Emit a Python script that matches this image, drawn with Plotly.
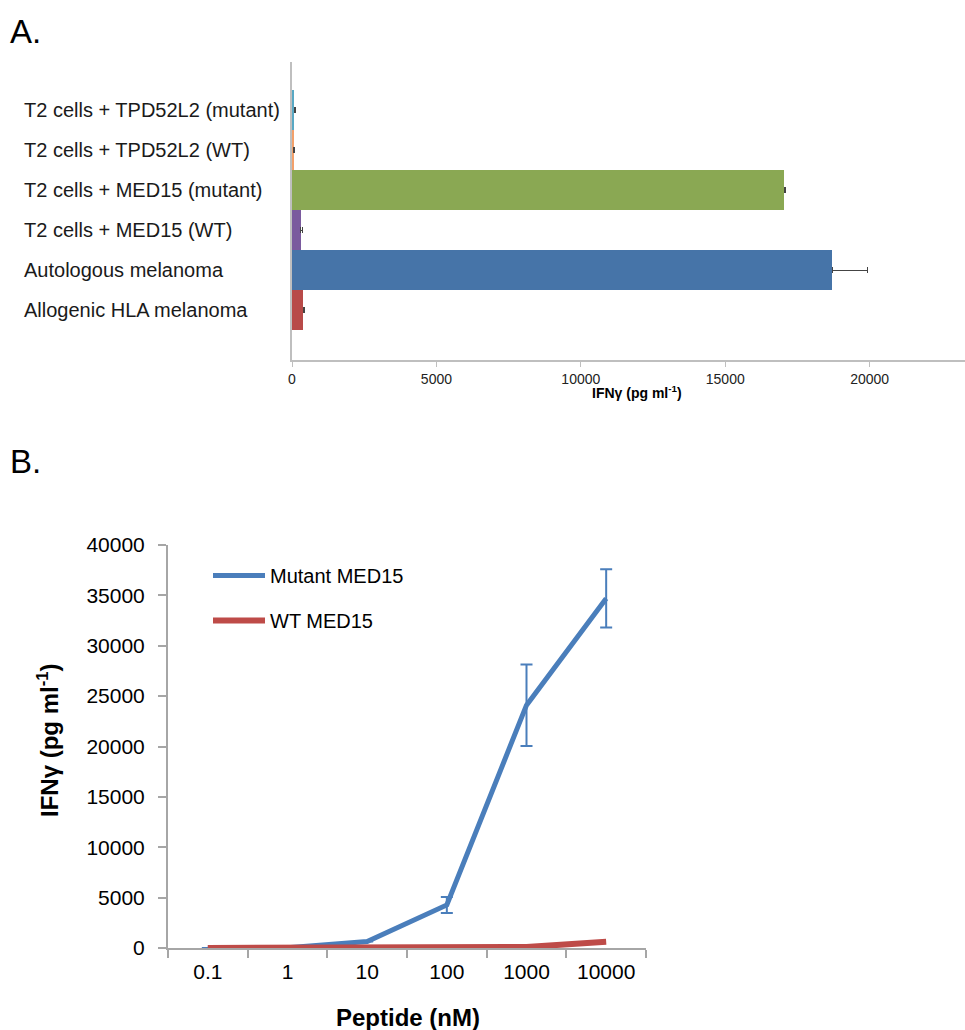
import plotly.graph_objects as go

W, H = 965, 1030

# ---------- Panel A data ----------
a_labels = ["Allogenic HLA melanoma", "Autologous melanoma", "T2 cells + MED15 (WT)",
            "T2 cells + MED15 (mutant)", "T2 cells + TPD52L2 (WT)", "T2 cells + TPD52L2 (mutant)"]
a_values = [390, 18700, 310, 17050, 55, 80]
a_errors = [35, 1220, 55, 40, 20, 30]
a_colors = ["#B84A48", "#4674A8", "#7A5A9E", "#8AA853", "#F3A06A", "#58A8C4"]
a_ticks = [0, 5000, 10000, 15000, 20000]

# ---------- Panel B data ----------
b_cats = ["0.1", "1", "10", "100", "1000", "10000"]
b_mutant = [0, 20, 650, 4270, 24100, 34700]
b_mutant_err = [None, None, None, 800, 4050, 2900]
b_wt = [0, 0, 0, 20, 100, 620]
b_names = ["Mutant MED15", "WT MED15"]

FONT = "Liberation Sans, Arial, sans-serif"
AXC = "#A6A6A6"

def px_x(p):
    return p / W

def px_y(p):
    return 1 - p / H

fig = go.Figure()

fig.add_trace(go.Bar(
    y=a_labels, x=a_values, orientation="h",
    marker=dict(color=a_colors, line=dict(width=0)),
    error_x=dict(type="data", symmetric=False, array=a_errors,
                 arrayminus=[0] * len(a_errors), color="#444444", thickness=1, width=3),
    xaxis="x", yaxis="y", showlegend=False, width=1.0,
))

fig.add_trace(go.Scatter(
    x=b_cats, y=b_mutant, mode="lines", name=b_names[0],
    line=dict(color="#4A7EBB", width=5),
    error_y=dict(type="data", array=b_mutant_err, color="#4A7EBB", thickness=2, width=6),
    xaxis="x2", yaxis="y2", legendgroup="a",
))
fig.add_trace(go.Scatter(
    x=b_cats, y=b_wt, mode="lines", name=b_names[1],
    line=dict(color="#BE4B48", width=6),
    xaxis="x2", yaxis="y2", legendgroup="b",
))

annotations = []
for lab in a_labels:
    annotations.append(dict(text=lab, x=px_x(22), xref="paper", y=lab, yref="y",
                            xanchor="left", yanchor="middle", showarrow=False,
                            font=dict(size=20, color="#1a1a1a", family=FONT)))
annotations += [
    dict(text="A.", x=px_x(8), y=px_y(31), xref="paper", yref="paper", xanchor="left",
         yanchor="middle", showarrow=False, font=dict(size=33, color="black", family=FONT)),
    dict(text="B.", x=px_x(8), y=px_y(461), xref="paper", yref="paper", xanchor="left",
         yanchor="middle", showarrow=False, font=dict(size=33, color="black", family=FONT)),
    dict(text="<b>IFNγ (pg ml<sup>-1</sup>)</b>", x=px_x(637), y=px_y(392), xref="paper",
         yref="paper", xanchor="center", yanchor="middle", showarrow=False,
         font=dict(size=14, color="black", family=FONT)),
    dict(text="<b>Peptide (nM)</b>", x=px_x(408), y=px_y(1017), xref="paper", yref="paper",
         xanchor="center", yanchor="middle", showarrow=False,
         font=dict(size=24, color="black", family=FONT)),
    dict(text="<b>IFNγ (pg ml<sup>-1</sup>)</b>", x=px_x(48), y=px_y(740), xref="paper",
         yref="paper", xanchor="center", yanchor="middle", showarrow=False, textangle=-90,
         font=dict(size=24, color="black", family=FONT)),
]

fig.update_layout(
    width=W, height=H, margin=dict(l=0, r=0, t=0, b=0, autoexpand=False),
    paper_bgcolor="white", plot_bgcolor="white",
    font=dict(family=FONT, color="black"),
    bargap=0,
    xaxis=dict(domain=[px_x(292), 1], range=[0, 23300], tickvals=a_ticks, tickformat="d",
               showgrid=False, zeroline=False, showline=True, linecolor="#BFBFBF",
               linewidth=1.5, ticks="outside", ticklen=5, tickcolor="#BFBFBF",
               tickfont=dict(size=14, color="#222"), anchor="y", automargin=False),
    yaxis=dict(domain=[px_y(360), px_y(62)], type="category", categoryorder="array",
               categoryarray=a_labels, range=[-1.25, 6.2], showticklabels=False,
               showgrid=False, zeroline=False, showline=True, linecolor="#BFBFBF",
               linewidth=1.5, ticks="", anchor="x", automargin=False),
    xaxis2=dict(domain=[px_x(168), px_x(646)], type="category", categoryorder="array",
                categoryarray=b_cats, range=[-0.5, 5.5], tickson="boundaries",
                showgrid=False, zeroline=False, showline=True, linecolor=AXC, linewidth=2,
                ticks="outside", ticklen=8, tickcolor=AXC, tickwidth=2,
                tickfont=dict(size=21, color="black"), anchor="y2", ticklabelstandoff=4,
                automargin=False),
    yaxis2=dict(domain=[px_y(948), px_y(545)], range=[0, 40000], dtick=5000, tickformat="d",
                showgrid=False, zeroline=False, showline=True, linecolor=AXC, linewidth=2,
                ticks="outside", ticklen=8, tickcolor=AXC, tickwidth=2,
                tickfont=dict(size=21, color="black"), anchor="x2", ticklabelstandoff=9,
                automargin=False),
    legend=dict(x=px_x(208), y=px_y(556), xanchor="left", yanchor="top",
                font=dict(size=20, color="black"), bgcolor="rgba(0,0,0,0)",
                tracegroupgap=16, traceorder="grouped", itemwidth=52),
    annotations=annotations,
)

fig.write_html("out.html", config={"displayModeBar": False},
               post_script="document.body.style.margin='0';document.body.style.overflow='hidden';")
